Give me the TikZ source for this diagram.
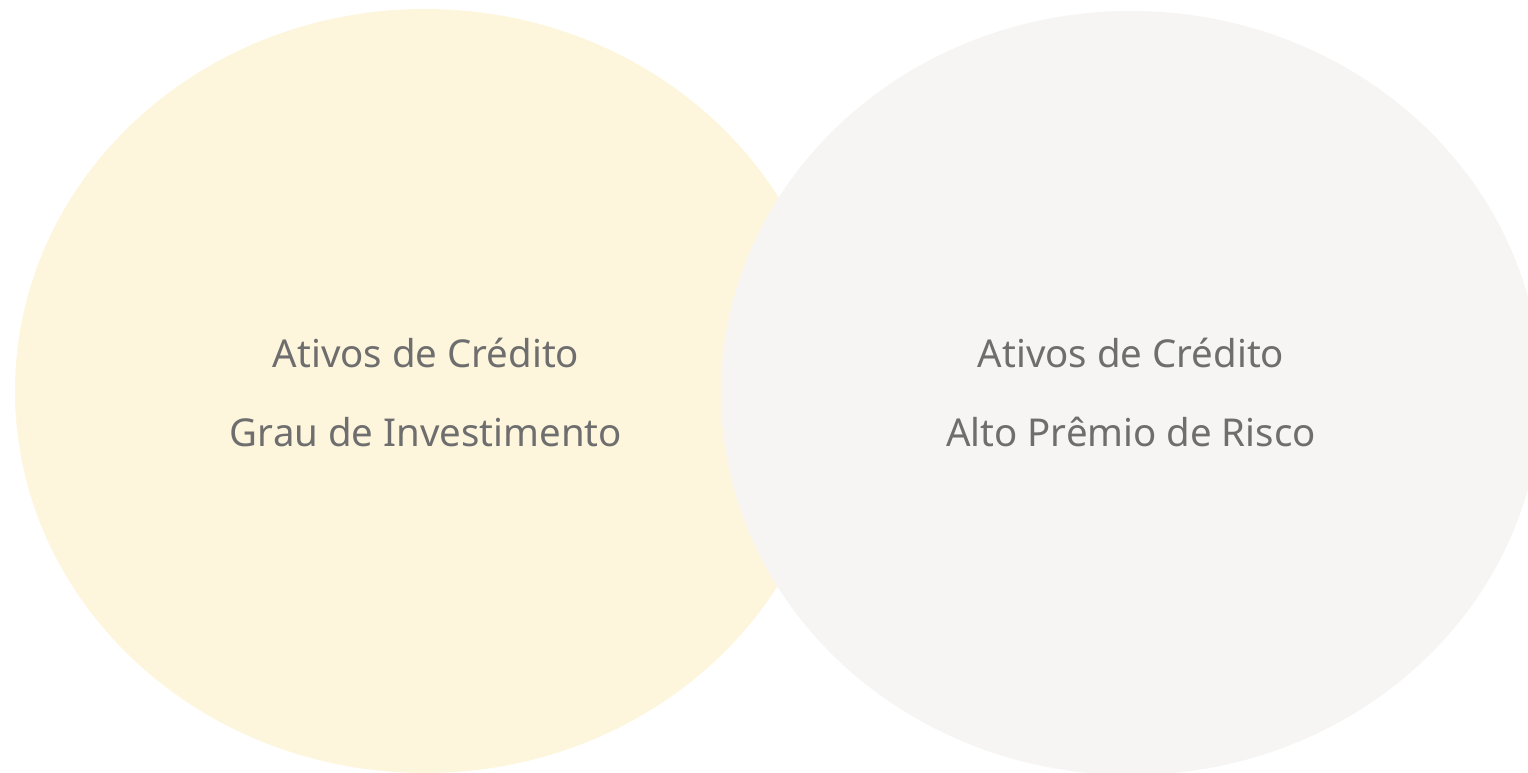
\documentclass[tikz,border=0pt]{standalone}
\usepackage{fontspec}
\setmainfont{Noto Sans}
\usetikzlibrary{shapes.geometric}
\definecolor{creamfill}{HTML}{FDF5DC}
\definecolor{greyfill}{HTML}{F6F5F3}
\definecolor{labelgrey}{HTML}{6E6E6E}
\begin{document}
\begin{tikzpicture}[
        x=1pt, y=1pt,
        blob/.style={ellipse, draw=none, inner sep=0pt, minimum width=820pt, minimum height=764pt},
        label/.style={anchor=base, text=labelgrey, font=\fontsize{38.4}{44}\selectfont}
    ]
        \useasboundingbox (0,0) rectangle (1528,773);
        % Ellipses
        \node[blob, fill=creamfill] (grade) at (425,382) {};
        \node[blob, fill=greyfill] (premium) at (1131,380) {};

        % Labels
        \node[label] (gradetop) at (426,405) {Ativos de Crédito};
        \node[label] (gradebot) at (426,326) {Grau de Investimento};
        \node[label] (premtop) at (1131,405) {Ativos de Crédito};
        \node[label] (prembot) at (1131,326) {Alto Prêmio de Risco};
    \end{tikzpicture}
\end{document}
